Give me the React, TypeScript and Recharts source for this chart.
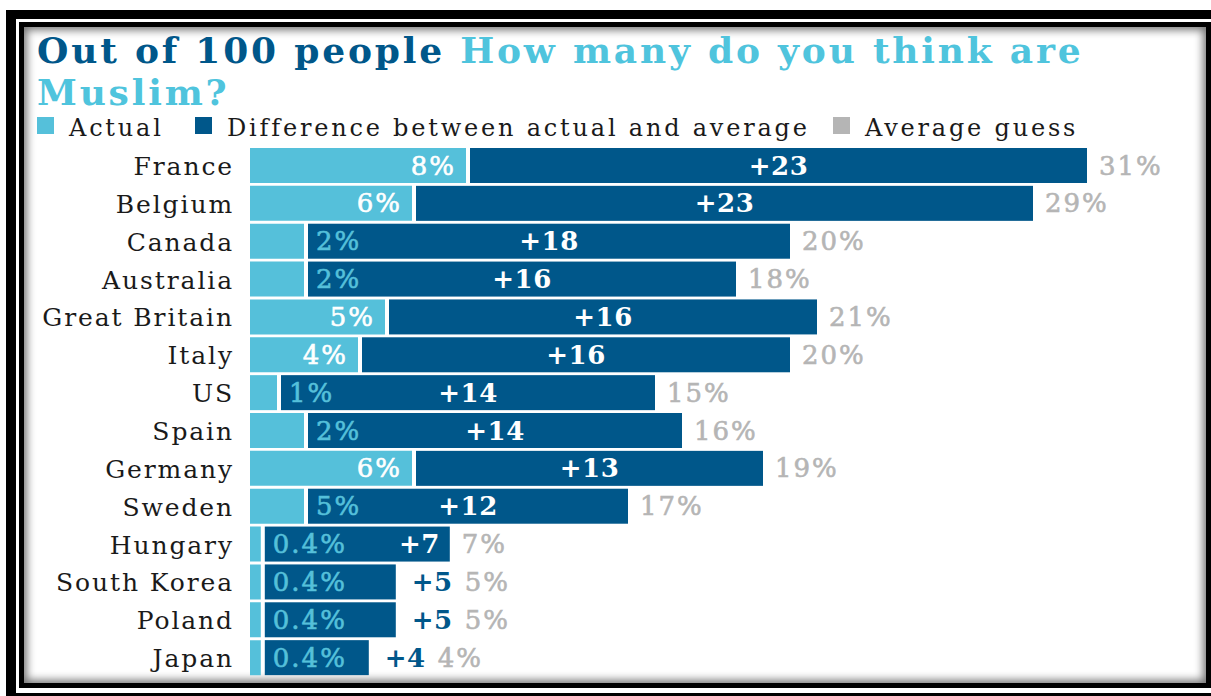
import React from 'react';
import { BarChart, Bar, XAxis, YAxis } from 'recharts';

const countries = ['France', 'Belgium', 'Canada', 'Australia', 'Great Britain', 'Italy', 'US', 'Spain', 'Germany', 'Sweden', 'Hungary', 'South Korea', 'Poland', 'Japan'];
// printed "actual" labels
const actualLabels = ['8%', '6%', '2%', '2%', '5%', '4%', '1%', '2%', '6%', '5%', '0.4%', '0.4%', '0.4%', '0.4%'];
// actual bar lengths as drawn in the graphic
const actualDrawn = [8, 6, 2, 2, 5, 4, 1, 2, 6, 2, 0.4, 0.4, 0.4, 0.4];
const difference = [23, 23, 18, 16, 16, 16, 14, 14, 13, 12, 7, 5, 5, 4];
const averageGuess = [31, 29, 20, 18, 21, 20, 15, 16, 19, 17, 7, 5, 5, 4];

const legendLabels = ['Actual', 'Difference between actual and average', 'Average guess'];

const LIGHT = '#55c0da';
const DARK = '#00578a';
const GREY = '#b5b5b5';
const TITLE_LIGHT = '#4fc4dd';
const FONT = '"DejaVu Serif", serif';
const GAP = 4;

const data = countries.map((country, i) => ({
    country,
    actualLabel: actualLabels[i],
    actual: actualDrawn[i],
    diff: difference[i],
    guess: averageGuess[i],
}));

const CountryTick = (props: any) => {
    const { x, y, payload } = props;
    return (
        <text x={x} y={y} dy={9} textAnchor="end" fill="#1a1a1a" fontFamily={FONT} fontSize={25} letterSpacing={1.9}>
            {payload.value}
        </text>
    );
};

const DiffShape = (props: any) => {
    const { x, y, width, height, payload } = props;
    const x0 = x + GAP;
    const w = Math.max(0, width - GAP);
    const end = x + width;
    const ty = y + height / 2 + 9;
    const bigActual = payload.actual >= 3.5;
    const outside = w < 150;
    const rightAlign = !outside && w < 200;

    let diffX = x0 + w / 2;
    let diffAnchor: 'middle' | 'end' | 'start' = 'middle';
    let guessX = end + 12;
    if (rightAlign) {
        diffX = end - 10;
        diffAnchor = 'end';
    } else if (outside) {
        diffX = end + 16;
        diffAnchor = 'start';
        guessX = diffX + 53;
    }

    return (
        <g fontFamily={FONT} fontSize={26} letterSpacing={2}>
            <rect x={x0} y={y} width={w} height={height} fill={DARK} />
            {bigActual ? (
                <text x={x - 10} y={ty} textAnchor="end" fill="#ffffff" stroke="#ffffff" strokeWidth={0.6}>{payload.actualLabel}</text>
            ) : (
                <text x={x0 + 8} y={ty} textAnchor="start" fill={LIGHT} stroke={LIGHT} strokeWidth={0.6}>{payload.actualLabel}</text>
            )}
            <text x={diffX} y={ty} textAnchor={diffAnchor} fill={outside ? DARK : '#ffffff'} fontWeight="bold" letterSpacing={0.5}>
                +{payload.diff}
            </text>
            <text x={guessX} y={ty} textAnchor="start" fill={GREY} stroke={GREY} strokeWidth={0.6}>{payload.guess}%</text>
        </g>
    );
};

const legendX = [37, 195, 833];
const legendColors = [LIGHT, DARK, GREY];

export default function App() {
    return (
        <div style={{ position: 'absolute', left: 0, top: 0, width: 1211, height: 696, overflow: 'hidden', background: '#ffffff' }}>
            {/* frame */}
            <div style={{ position: 'absolute', left: 6, top: 10, width: 1240, height: 720, background: '#000' }} />
            <div style={{ position: 'absolute', left: 16, top: 19, width: 1230, height: 674, background: '#fff' }} />
            <div style={{ position: 'absolute', left: 19, top: 22, width: 1192, height: 666, background: '#000' }} />
            <div style={{ position: 'absolute', left: 24, top: 27, width: 1182, height: 656, background: '#fff', boxShadow: 'inset 0 0 9px 3px rgba(0,0,0,0.55)' }} />

            {/* title + legend */}
            <svg width={1150} height={145} style={{ position: 'absolute', left: 0, top: 0 }}>
                <text x={37} y={63} fontFamily={FONT} fontWeight="bold" fontSize={36} letterSpacing={2.8}>
                    <tspan fill={DARK}>Out of 100 people </tspan>
                    <tspan fill={TITLE_LIGHT}>How many do you think are</tspan>
                </text>
                <text x={37} y={105} fontFamily={FONT} fontWeight="bold" fontSize={36} letterSpacing={2.8} fill={TITLE_LIGHT}>
                    Muslim?
                </text>
                {legendLabels.map((label, i) => (
                    <g key={label}>
                        <rect x={legendX[i]} y={117} width={17} height={17} fill={legendColors[i]} />
                        <text x={legendX[i] + 32} y={136} fontFamily={FONT} fontSize={24} letterSpacing={2.8} fill="#1a1a1a">
                            {label}
                        </text>
                    </g>
                ))}
            </svg>

            <div style={{ position: 'absolute', left: 0, top: 0 }}>
                <BarChart width={1211} height={696} data={data} layout="vertical" barSize={35}
                    margin={{ top: 147, right: 16, bottom: 19, left: 0 }}>
                    <XAxis type="number" hide domain={[0, 35]} allowDataOverflow />
                    <YAxis type="category" dataKey="country" width={250} axisLine={false} tickLine={false}
                        tickMargin={10} tick={<CountryTick />} interval={0} />
                    <Bar dataKey="actual" stackId="a" fill={LIGHT} isAnimationActive={false} />
                    <Bar dataKey="diff" stackId="a" fill={DARK} shape={<DiffShape />} isAnimationActive={false} />
                </BarChart>
            </div>
        </div>
    );
}
